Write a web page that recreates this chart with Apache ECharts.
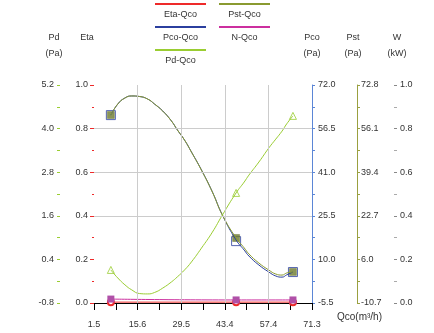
<!DOCTYPE html>
<html>
<head>
<meta charset="utf-8">
<script src="https://cdn.jsdelivr.net/npm/echarts@6/dist/echarts.min.js"></script>
<style>
html,body{margin:0;padding:0;background:#fff;}
#chart{width:434px;height:333px;}
</style>
</head>
<body>
<div id="chart"></div>
<script>
// measured data points
const qPts   = [6.9, 47.0, 65.2];
const etaPts = [0.004, 0.004, 0.004];
const pcoPts = [61.3, 16.5, 5.5];
const pstPts = [61.3, 14.2, 1.2];
const pdPts  = [0.11, 2.23, 4.35];
const nPts   = [0.018, 0.014, 0.014];

// fitted curves
const qFit   = [6.9, 9.1, 11.4, 13.6, 16.1, 18.7, 20.9, 23.5, 26.3, 28.2, 30.5, 32.7, 35.9, 39.4, 42.6, 47.0, 49.6, 51.1, 54.3, 57.5, 59.7, 61.7, 63.2, 65.2];
const pcoFit = [61.3, 65.2, 67.4, 68.1, 67.9, 67.0, 65.2, 62.8, 59.2, 56.0, 52.4, 48.2, 41.8, 34.0, 25.8, 16.9, 13.3, 11.2, 8.0, 5.5, 4.1, 3.7, 4.5, 5.5];
const pstFit = [61.3, 65.5, 67.8, 68.6, 68.4, 67.4, 65.5, 62.8, 59.0, 55.6, 51.7, 47.1, 40.2, 31.8, 23.0, 14.2, 10.4, 8.1, 4.6, 1.9, 0.4, 0.0, 0.8, 1.2];
const pdFit  = [0.11, -0.11, -0.30, -0.44, -0.54, -0.55, -0.51, -0.39, -0.22, -0.08, 0.11, 0.33, 0.71, 1.15, 1.62, 2.23, 2.53, 2.72, 3.08, 3.47, 3.71, 3.93, 4.13, 4.35];

// tick values and labels
const xTickVals   = [1.5, 15.46, 29.42, 43.38, 57.34, 71.3];
const xTickLabels = ['1.5', '15.6', '29.5', '43.4', '57.4', '71.3'];
const pdTickVals   = [-0.8, 0.4, 1.6, 2.8, 4.0, 5.2];
const pdTickLabels = ['-0.8', '0.4', '1.6', '2.8', '4.0', '5.2'];
const pcoTickVals   = [-5.5, 10.0, 25.5, 41.0, 56.5, 72.0];
const pcoTickLabels = ['-5.5', '10.0', '25.5', '41.0', '56.5', '72.0'];
const pstTickVals   = [-10.7, 6.0, 22.7, 39.4, 56.1, 72.8];
const pstTickLabels = ['-10.7', '6.0', '22.7', '39.4', '56.1', '72.8'];
const etaGridVals = [0.4, 0.6, 0.8];

const legendNames  = ['Eta-Qco', 'Pst-Qco', 'Pco-Qco', 'N-Qco', 'Pd-Qco'];

const C = {
  eta: '#ee2a2a', pco: '#2b3f9e', pst: '#8a9a30', pd: '#9acd32', n: '#cc2f9f',
  pcoAxis: '#5b86d6', pstAxis: '#9aa040', grid: '#cccccc', text: '#333333'
};
const FONT = 'Liberation Sans, Arial, sans-serif';

function withMinors(vals) {
  const out = [];
  for (let i = 0; i < vals.length; i++) {
    out.push(vals[i]);
    if (i < vals.length - 1) out.push((vals[i] + vals[i + 1]) / 2);
  }
  return out;
}
function labelFor(vals, labels) {
  return function (v) {
    let best = 0, bd = Infinity;
    vals.forEach((t, i) => { const d = Math.abs(t - v); if (d < bd) { bd = d; best = i; } });
    return labels[best];
  };
}
const zip = (a, b) => a.map((x, i) => [x, b[i]]);

const chart = echarts.init(document.getElementById('chart'), null, { renderer: 'canvas' });

const nameStyle = (pad) => ({ color: C.text, fontSize: 9, fontFamily: FONT, lineHeight: 16, padding: pad });

// legend drawn as graphic (line above text)
const legendPos = [
  [155, 4, C.eta], [219, 4, C.pst], [155, 27, C.pco], [219, 27, C.n], [155, 50, C.pd]
];
const graphic = [];
legendNames.forEach((nm, i) => {
  const [x, y, col] = legendPos[i];
  graphic.push({ type: 'line', shape: { x1: x, y1: y, x2: x + 51, y2: y }, style: { stroke: col, lineWidth: 2 }, silent: true });
  graphic.push({ type: 'text', x: x + 25.5, y: y + 11, style: { text: nm, fill: C.text, font: '9px ' + FONT, textAlign: 'center', textVerticalAlign: 'middle' }, silent: true });
});

const option = {
  animation: false,
  backgroundColor: '#fff',
  grid: { left: 94, right: 122, top: 85, bottom: 30 },
  graphic: graphic,
  xAxis: {
    type: 'value', min: 1.5, max: 71.3,
    name: 'Qco(m³/h)', nameLocation: 'end', nameGap: 25,
    nameTextStyle: { color: C.text, fontSize: 10, fontFamily: FONT, align: 'left', verticalAlign: 'top', padding: [9, 0, 0, 0] },
    axisLine: { show: true, lineStyle: { color: '#000', width: 1 } },
    axisTick: { show: true, length: 7, lineStyle: { color: '#000' }, customValues: withMinors(xTickVals) },
    axisLabel: { color: C.text, fontSize: 9, fontFamily: FONT, margin: 17, customValues: xTickVals, formatter: labelFor(xTickVals, xTickLabels) },
    splitLine: { show: false }
  },
  yAxis: [
    { // Eta
      type: 'value', position: 'left', min: 0, max: 1, interval: 0.2,
      name: 'Eta', nameLocation: 'end', nameGap: 39,
      nameTextStyle: nameStyle([0, 14, 0, 0]),
      axisLine: { show: false },
      axisTick: { show: true, length: 4, lineStyle: { color: C.eta } },
      minorTick: { show: true, splitNumber: 2, length: 2, lineStyle: { color: C.eta } },
      axisLabel: { color: C.text, fontSize: 9, fontFamily: FONT, margin: 6, formatter: v => v.toFixed(1) },
      splitLine: { show: false }
    },
    { // Pd
      type: 'value', position: 'left', offset: 34, min: -0.8, max: 5.2,
      name: 'Pd\n(Pa)', nameLocation: 'end', nameGap: 23,
      nameTextStyle: nameStyle([0, 12, 0, 0]),
      axisLine: { show: false },
      axisTick: { show: true, length: 3, lineStyle: { color: C.pd }, customValues: withMinors(pdTickVals) },
      axisLabel: { color: C.text, fontSize: 9, fontFamily: FONT, margin: 6, customValues: pdTickVals, formatter: labelFor(pdTickVals, pdTickLabels) },
      splitLine: { show: false }
    },
    { // Pco
      type: 'value', position: 'right', offset: 0, min: -5.5, max: 72.0,
      name: 'Pco\n(Pa)', nameLocation: 'end', nameGap: 23,
      nameTextStyle: nameStyle([0, 0, 0, 0]),
      axisLine: { show: true, lineStyle: { color: C.pcoAxis, width: 1 } },
      axisTick: { show: true, length: 3, lineStyle: { color: C.pcoAxis }, customValues: withMinors(pcoTickVals) },
      axisLabel: { color: C.text, fontSize: 9, fontFamily: FONT, margin: 6, customValues: pcoTickVals, formatter: labelFor(pcoTickVals, pcoTickLabels) },
      splitLine: { show: false }
    },
    { // Pst
      type: 'value', position: 'right', offset: 45, min: -10.7, max: 72.8,
      name: 'Pst\n(Pa)', nameLocation: 'end', nameGap: 23,
      nameTextStyle: nameStyle([0, 8, 0, 0]),
      axisLine: { show: true, lineStyle: { color: C.pstAxis, width: 1 } },
      axisTick: { show: true, length: 3, lineStyle: { color: C.pstAxis }, customValues: withMinors(pstTickVals) },
      axisLabel: { color: C.text, fontSize: 9, fontFamily: FONT, margin: 4, customValues: pstTickVals, formatter: labelFor(pstTickVals, pstTickLabels) },
      splitLine: { show: false }
    },
    { // W
      type: 'value', position: 'right', offset: 82, min: 0, max: 1, interval: 0.2,
      name: 'W\n(kW)', nameLocation: 'end', nameGap: 23,
      nameTextStyle: nameStyle([0, 0, 0, 6]),
      axisLine: { show: false },
      axisTick: { show: true, length: 3, lineStyle: { color: '#888' } },
      minorTick: { show: true, splitNumber: 2, length: 3, lineStyle: { color: '#aaa' } },
      axisLabel: { color: C.text, fontSize: 9, fontFamily: FONT, margin: 6, formatter: v => v.toFixed(1) },
      splitLine: { show: false }
    }
  ],
  series: [
    {
      name: 'Eta-Qco', type: 'line', yAxisIndex: 0, data: zip(qPts, etaPts),
      symbol: 'emptyCircle', symbolSize: 6, showSymbol: true,
      lineStyle: { color: C.eta, width: 1 }, itemStyle: { color: C.eta },
      markLine: {
        silent: true, symbol: 'none', label: { show: false },
        lineStyle: { color: C.grid, type: 'solid', width: 1 },
        data: xTickVals.slice(1, -1).map(v => ({ xAxis: v })).concat(etaGridVals.map(v => ({ yAxis: v })))
      },
      z: 2
    },
    {
      name: 'Pco-Qco', type: 'line', yAxisIndex: 2, data: zip(qFit, pcoFit),
      smooth: true, symbol: 'none', lineStyle: { color: C.pco, width: 1 }, itemStyle: { color: C.pco }
    },
    {
      name: 'Pst-Qco', type: 'line', yAxisIndex: 3, data: zip(qFit, pstFit),
      smooth: true, symbol: 'none', lineStyle: { color: C.pst, width: 1 }, itemStyle: { color: C.pst }
    },
    {
      name: 'Pd-Qco', type: 'line', yAxisIndex: 1, data: zip(qFit, pdFit),
      smooth: true, symbol: 'none', lineStyle: { color: C.pd, width: 1 }, itemStyle: { color: C.pd }
    },
    {
      name: 'Pco-Qco', type: 'scatter', yAxisIndex: 2, data: zip(qPts, pcoPts),
      symbol: 'rect', symbolSize: 9, itemStyle: { color: '#ffffff', borderColor: C.pco, borderWidth: 1 }
    },
    {
      name: 'Pst-Qco', type: 'scatter', yAxisIndex: 3, data: zip(qPts, pstPts),
      symbol: 'rect', symbolSize: 7, itemStyle: { color: '#6d7a2c', borderColor: '#5e6a26', borderWidth: 0.5 }
    },
    {
      name: 'Pd-Qco', type: 'scatter', yAxisIndex: 1, data: zip(qPts, pdPts),
      symbol: 'triangle', symbolSize: 7, itemStyle: { color: '#ffffff', borderColor: C.pd, borderWidth: 1 }
    },
    {
      name: 'N-Qco', type: 'line', yAxisIndex: 4, data: zip(qPts, nPts),
      smooth: true, symbol: 'rect', symbolSize: 7, showSymbol: true,
      lineStyle: { color: C.n, width: 1 }, itemStyle: { color: '#b050a8' }
    }
  ]
};
chart.setOption(option);
</script>
</body>
</html>
